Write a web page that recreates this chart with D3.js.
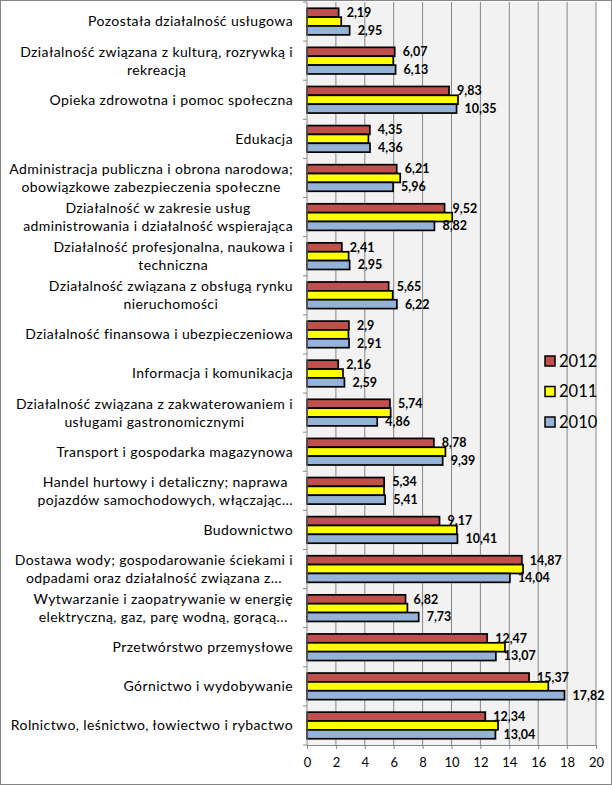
<!DOCTYPE html>
<html>
<head>
<meta charset="utf-8">
<script src="https://cdn.jsdelivr.net/npm/d3@7"></script>
<style>
  body { margin: 0; background: #fff; }
  svg { display: block; font-family: Lato, "Open Sans", sans-serif; }
</style>
</head>
<body>
<div id="chart"></div>
<script>
// categories top to bottom, "\n" marks the line break used in the picture
const categories = [
    "Pozostała działalność usługowa",
    "Działalność związana z kulturą, rozrywką i\nrekreacją",
    "Opieka zdrowotna i pomoc społeczna",
    "Edukacja",
    "Administracja publiczna i obrona narodowa;\nobowiązkowe zabezpieczenia społeczne",
    "Działalność w zakresie usług\nadministrowania i działalność wspierająca",
    "Działalność profesjonalna, naukowa i\ntechniczna",
    "Działalność związana z obsługą rynku\nnieruchomości",
    "Działalność finansowa i ubezpieczeniowa",
    "Informacja i komunikacja",
    "Działalność związana z zakwaterowaniem i\nusługami gastronomicznymi",
    "Transport i gospodarka magazynowa",
    "Handel hurtowy i detaliczny; naprawa\npojazdów samochodowych, włączając...",
    "Budownictwo",
    "Dostawa wody; gospodarowanie ściekami i\nodpadami oraz działalność związana z...",
    "Wytwarzanie i zaopatrywanie w energię\nelektryczną, gaz, parę wodną, gorącą...",
    "Przetwórstwo przemysłowe",
    "Górnictwo i wydobywanie",
    "Rolnictwo, leśnictwo, łowiectwo i rybactwo"
];

const values2012 = [2.19, 6.07, 9.83, 4.35, 6.21, 9.52, 2.41, 5.65, 2.9, 2.16, 5.74, 8.78, 5.34, 9.17, 14.87, 6.82, 12.47, 15.37, 12.34];
const values2011 = [2.37, 5.97, 10.45, 4.25, 6.45, 10.05, 2.88, 5.93, 2.87, 2.49, 5.79, 9.58, 5.33, 10.37, 14.95, 6.95, 13.7, 16.7, 13.22];
const values2010 = [2.95, 6.13, 10.35, 4.36, 5.96, 8.82, 2.95, 6.22, 2.91, 2.59, 4.86, 9.39, 5.41, 10.41, 14.04, 7.73, 13.07, 17.82, 13.04];

const seriesNames = ["2012", "2011", "2010"];
const seriesColors = ["#c0504d", "#ffff00", "#95b3d7"];
const labelled = ["2012", "2010"];   // 2011 has no data labels in the picture
const xTicks = [0, 2, 4, 6, 8, 10, 12, 14, 16, 18, 20];

const seriesValues = [values2012, values2011, values2010];

const width = 612;
const height = 786;
const plot = { left: 307, right: 596, top: 2, bottom: 745 };

const svg = d3.select("#chart").append("svg")
    .attr("width", width)
    .attr("height", height);

// outer chart frame
svg.append("rect")
    .attr("x", 0.5).attr("y", 0.5)
    .attr("width", width - 1).attr("height", height - 2)
    .attr("fill", "#fff")
    .attr("stroke", "#868686");

const x = d3.scaleLinear().domain([0, 20]).range([plot.left, plot.right]);
const y = d3.scaleBand().domain(categories).range([plot.top, plot.bottom])
    .paddingInner(0.32).paddingOuter(0.16);
const ySeries = d3.scaleBand().domain(seriesNames).range([0, y.bandwidth()]);

// plot background and gridlines
svg.append("rect")
    .attr("x", plot.left).attr("y", plot.top)
    .attr("width", plot.right - plot.left).attr("height", plot.bottom - plot.top)
    .attr("fill", "#f2f2f2");

svg.append("g")
    .selectAll("line")
    .data(xTicks.slice(1))
    .enter().append("line")
    .attr("x1", d => x(d)).attr("x2", d => x(d))
    .attr("y1", plot.top).attr("y2", plot.bottom)
    .attr("stroke", "#868686")
    .attr("stroke-width", 1);

// bars
const rows = categories.map((c, i) => ({
    cat: c,
    vals: seriesNames.map((s, j) => ({ series: s, value: seriesValues[j][i], color: seriesColors[j] }))
}));

const group = svg.append("g").selectAll("g")
    .data(rows)
    .enter().append("g")
    .attr("transform", d => "translate(0," + y(d.cat) + ")");

group.selectAll("rect")
    .data(d => d.vals)
    .enter().append("rect")
    .attr("x", x(0))
    .attr("y", d => ySeries(d.series))
    .attr("width", d => x(d.value) - x(0))
    .attr("height", ySeries.bandwidth())
    .attr("fill", d => d.color)
    .attr("stroke", "#000")
    .attr("stroke-width", 1.7);

group.selectAll("text")
    .data(d => d.vals.filter(v => labelled.includes(v.series)))
    .enter().append("text")
    .attr("x", d => x(d.value) + 8)
    .attr("y", d => ySeries(d.series) + ySeries.bandwidth() / 2)
    .attr("dy", "0.35em")
    .attr("font-size", 12.5)
    .attr("font-weight", "bold")
    .attr("fill", "#000")
    .text(d => String(d.value).replace(".", ","));

// axes
const xAxis = svg.append("g")
    .attr("transform", "translate(0," + plot.bottom + ")")
    .call(d3.axisBottom(x).tickValues(xTicks).tickSize(4).tickPadding(9));
xAxis.select(".domain").attr("stroke", "#868686");
xAxis.selectAll(".tick line").attr("stroke", "#868686");
xAxis.selectAll(".tick text").attr("font-size", 13).attr("fill", "#000")
    .style("font-family", "Lato, sans-serif");

const yLine = svg.append("g");
yLine.append("line")
    .attr("x1", plot.left).attr("x2", plot.left)
    .attr("y1", plot.top).attr("y2", plot.bottom)
    .attr("stroke", "#868686");
const step = y.step();
yLine.selectAll(".ytick")
    .data(d3.range(categories.length + 1))
    .enter().append("line")
    .attr("class", "ytick")
    .attr("x1", plot.left - 4).attr("x2", plot.left)
    .attr("y1", i => plot.top + i * step).attr("y2", i => plot.top + i * step)
    .attr("stroke", "#868686");

// category labels (multi-line ones are centred as a block, block right-aligned)
const labelRight = 293;
const lineGap = 18;
categories.forEach(c => {
    const lines = c.split("\n");
    const cy = y(c) + y.bandwidth() / 2;
    const t = svg.append("text")
        .attr("font-size", 14)
        .attr("letter-spacing", 0.4)
        .attr("fill", "#000");
    lines.forEach((ln, k) => {
        t.append("tspan")
            .attr("y", cy + (k - (lines.length - 1) / 2) * lineGap)
            .attr("dy", "0.35em")
            .text(ln);
    });
    if (lines.length === 1) {
        t.attr("text-anchor", "end").selectAll("tspan").attr("x", labelRight);
    } else {
        const w = d3.max(t.selectAll("tspan").nodes(), n => n.getComputedTextLength());
        t.attr("text-anchor", "middle").selectAll("tspan").attr("x", labelRight - w / 2);
    }
});

// legend
const legend = svg.append("g").attr("transform", "translate(545,361)");
const legendItem = legend.selectAll("g")
    .data(seriesNames)
    .enter().append("g")
    .attr("transform", (d, i) => "translate(0," + i * 30.5 + ")");
legendItem.append("rect")
    .attr("x", 0).attr("y", -5)
    .attr("width", 10).attr("height", 10)
    .attr("fill", (d, i) => seriesColors[i])
    .attr("stroke", "#000")
    .attr("stroke-width", 1.5);
legendItem.append("text")
    .attr("x", 14)
    .attr("dy", "0.35em")
    .attr("font-size", 16.5)
    .attr("fill", "#000")
    .text(d => d);
</script>
</body>
</html>
